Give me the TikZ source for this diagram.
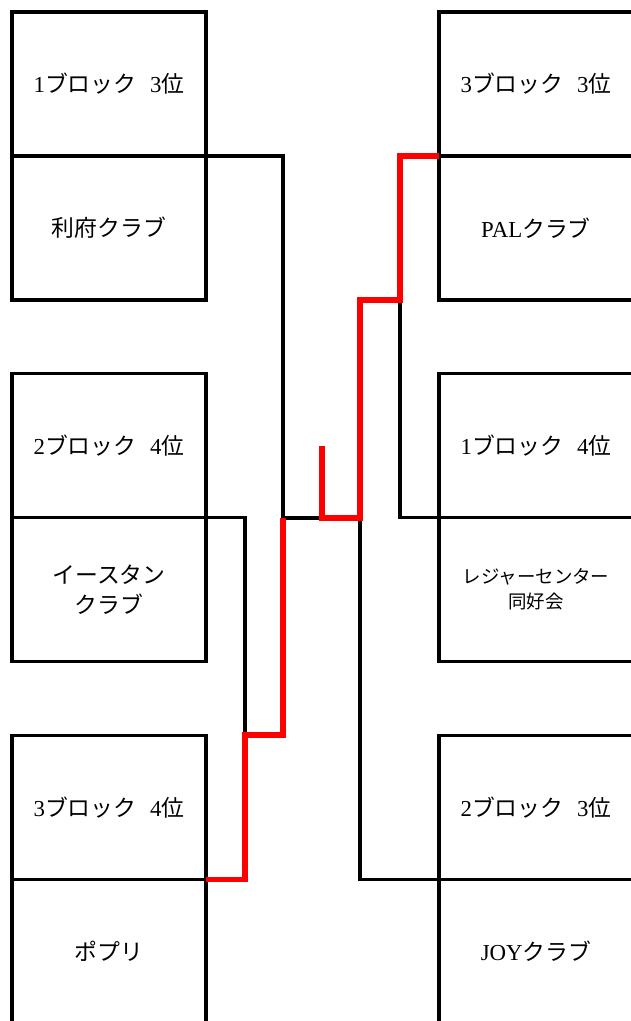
\documentclass[tikz,border=0pt]{standalone}
\usepackage{fontspec}
\setmainfont{Liberation Serif}
\newfontfamily\jp{Noto Sans CJK JP}
\usepackage{tikz}
\usetikzlibrary{positioning}

\begin{document}
\begin{tikzpicture}[
    cell/.style={rectangle, draw=black, line width=2.1pt, outer sep=0pt, minimum width=3.88cm, minimum height=2.88cm, align=center, font=\fontsize{13}{17}\selectfont},
    small/.style={font=\fontsize{10.5}{14}\selectfont},
    line/.style={black, line width=2.1pt},
    win/.style={red, line width=3.1pt}
]
\useasboundingbox (0,0) rectangle (12.6,-20.42);

% Left side
\node[cell] (h1) at (2.18,-1.68) {1{\jp ブロック}\hspace{0.6em}3{\jp 位}};
\node[cell, below=0cm of h1] (ri) {\jp 利府クラブ};
\node[cell] (h2) at (2.18,-8.91) {2{\jp ブロック}\hspace{0.6em}4{\jp 位}};
\node[cell, below=0cm of h2] (ea) {\jp イースタン\\\jp クラブ};
\node[cell] (h3) at (2.18,-16.15) {3{\jp ブロック}\hspace{0.6em}4{\jp 位}};
\node[cell, below=0cm of h3] (po) {\jp ポプリ};

% Right side
\node[cell] (h4) at (10.72,-1.68) {3{\jp ブロック}\hspace{0.6em}3{\jp 位}};
\node[cell, below=0cm of h4] (pal) {PAL{\jp クラブ}};
\node[cell] (h5) at (10.72,-8.91) {1{\jp ブロック}\hspace{0.6em}4{\jp 位}};
\node[cell, small, below=0cm of h5] (le) {\jp レジャーセンター\\\jp 同好会};
\node[cell] (h6) at (10.72,-16.15) {2{\jp ブロック}\hspace{0.6em}3{\jp 位}};
\node[cell, below=0cm of h6] (joy) {JOY{\jp クラブ}};

% Joints
\coordinate (qa) at (4.9,-14.7);
\coordinate (sa) at (5.66,-10.36);
\coordinate (fin) at (6.44,-8.92);
\coordinate (qb) at (8.0,-6.0);
\coordinate (sb) at (7.2,-10.36);

% Lines
\draw[line] (ri.north east) -| (sa);
\draw[line] (ea.north east) -| (qa);
\draw[line] (sa) -- (sa -| fin);
\draw[line] (le.north west) -| (qb);
\draw[line] (joy.north west) -| (sb);

% Winners
\draw[win] (po.north east) -| (qa) -| (sa);
\draw[win] (pal.north west) -| (qb) -| (sb) -| (fin);

\end{tikzpicture}
\end{document}
